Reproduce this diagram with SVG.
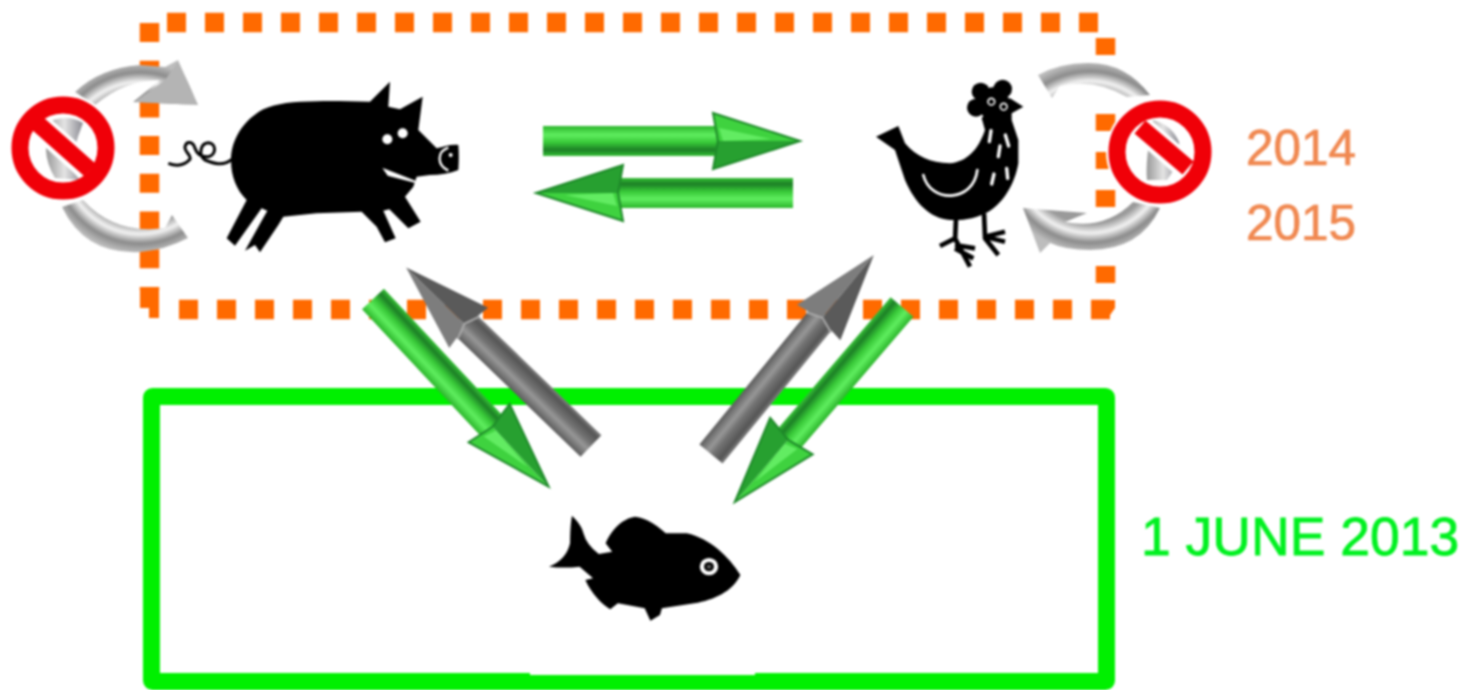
<svg xmlns="http://www.w3.org/2000/svg" xmlns:xlink="http://www.w3.org/1999/xlink" width="1471" height="690" viewBox="0 0 1471 690">
<style>
.dots{fill:none;stroke:#ff6a00;stroke-width:19.500}
.frame{fill:none;stroke:#00f000;stroke-width:17}
.sil{fill:#000}
.wl{fill:none;stroke:#fff;stroke-linecap:round}
.lbl{font-family:"Liberation Sans",Arial,sans-serif}
.or{fill:#f08850;stroke:#f08850;stroke-width:.7;font-size:49.500px}
.gr{fill:#00f020;stroke:#00f020;stroke-width:.8;font-size:53.500px}
.red{fill:none;stroke:#f00008}
</style>
<defs>
<filter id="soft" x="0" y="0" width="1471" height="690" filterUnits="userSpaceOnUse" color-interpolation-filters="sRGB"><feGaussianBlur stdDeviation="0.8"/></filter>
<linearGradient id="gs" x1="0" y1="0" x2="0" y2="1"><stop offset="0" stop-color="#2bb52b"/><stop offset=".3" stop-color="#5fee5f"/><stop offset=".55" stop-color="#38c838"/><stop offset=".8" stop-color="#1c7f26"/><stop offset="1" stop-color="#35c035"/></linearGradient>
<linearGradient id="ys" x1="0" y1="0" x2="0" y2="1"><stop offset="0" stop-color="#5c5c5c"/><stop offset=".35" stop-color="#979797"/><stop offset=".55" stop-color="#737373"/><stop offset=".85" stop-color="#555"/><stop offset="1" stop-color="#808080"/></linearGradient>
<linearGradient id="frag" x1="0" y1="0" x2="1" y2="0"><stop offset="0" stop-color="#999"/><stop offset=".5" stop-color="#e4e4e4"/><stop offset="1" stop-color="#8a8a92"/></linearGradient>
<radialGradient id="ringL" gradientUnits="userSpaceOnUse" cx="140" cy="158" r="95"><stop offset=".7" stop-color="#9a9a9a"/><stop offset=".8" stop-color="#f2f2f2"/><stop offset=".9" stop-color="#8c8c8c"/><stop offset="1" stop-color="#bdbdbd"/></radialGradient>
<radialGradient id="ringR" gradientUnits="userSpaceOnUse" cx="1090" cy="157" r="95"><stop offset=".7" stop-color="#9a9a9a"/><stop offset=".8" stop-color="#f2f2f2"/><stop offset=".9" stop-color="#8c8c8c"/><stop offset="1" stop-color="#bdbdbd"/></radialGradient>
<g id="ag">
<rect x="0" y="-15" width="175" height="30" fill="url(#gs)"/>
<path d="M170,-28L257,0L174,0Z" fill="#3fd23f"/>
<path d="M170,28L257,0L174,0Z" fill="#27a030"/>
<path d="M176,-13L228,-2L180,0Z" fill="#62ec62"/>
<path d="M170,-28L257,0L170,28L175,0Z" fill="none" stroke="#1f8a2a" stroke-width="2"/>
</g>
<g id="ay">
<rect x="0" y="-15" width="175" height="30" fill="url(#ys)"/>
<path d="M170,-28L257,0L174,0Z" fill="#7d7d7d"/>
<path d="M170,28L257,0L174,0Z" fill="#5a5a5a"/>
<path d="M170,-16L176,0L170,16" fill="none" stroke="#aaa" stroke-width="2"/>
</g>
</defs>
<rect width="1471" height="690" fill="#fff"/>
<g filter="url(#soft)">
<g id="zone-2014-2015">
<path class="dots" d="M167,22.500H1105" stroke-dasharray="19 19"/>
<path class="dots" d="M149.500,23V290" stroke-dasharray="19 18.700"/>
<path class="dots" d="M1105.500,38V300" stroke-dasharray="17 21"/>
<path class="dots" d="M179,309.500H1115" stroke-dasharray="19 19"/>
<path d="M140,290H159V318H149V308H140Z" fill="#ff6a00"/>
<path d="M1096,300H1115V308L1108,318H1096Z" fill="#ff6a00"/>
<rect x="1094" y="83" width="23" height="12" fill="#fff"/>
</g>
<g id="zone-2013">
<rect class="frame" x="151.500" y="396.500" width="955" height="285" rx="1"/>
<rect x="530" y="668" width="225" height="7" fill="#fff"/>
</g>
<g id="connectors">
<use href="#ag" xlink:href="#ag" transform="translate(543,141)"/>
<use href="#ag" xlink:href="#ag" transform="translate(793,193) rotate(180)"/>
<use href="#ag" xlink:href="#ag" transform="translate(373,299) rotate(46.900) scale(1,-1)"/>
<use href="#ay" xlink:href="#ay" transform="translate(591,446) rotate(224)"/>
<use href="#ay" xlink:href="#ay" transform="translate(711,454) rotate(-50.700)"/>
<use href="#ag" xlink:href="#ag" transform="translate(902,307) rotate(130.600)"/>
<path d="M75,92Q100,68 140,65L165,67L178,60L198,105L133,102L160,80Q125,80 95,105Z" fill="url(#ringL)"/>
<path d="M165,80L178,62L198,105L135,102Z" fill="#b4b4b4"/>
<path d="M62,207Q85,255 140,252Q165,250 188,238L172,215L165,228Q115,235 83,200Z" fill="url(#ringL)"/>
<path d="M1150,95Q1125,62 1087,63Q1060,63 1038,75L1052,98L1060,86Q1095,78 1127,97Z" fill="url(#ringR)"/>
<path d="M1160,208Q1140,250 1090,250Q1065,250 1050,243L1040,253L1023,208L1087,213L1065,222Q1105,230 1133,202Z" fill="url(#ringR)"/>
</g>
<g id="stop-left">
<circle cx="63" cy="148" r="54" fill="#fff"/>
<path d="M53,120Q70,115 83,123Q72,150 72,170L80,180L55,178Q38,150 53,120Z" fill="url(#frag)"/>
<path d="M30,117L96,176" stroke="#fff" stroke-width="25" fill="none"/>
<circle cx="63" cy="148" r="43" class="red" stroke-width="17"/>
<path d="M37,123L90,170" class="red" stroke-width="17"/>
</g>
<g id="stop-right">
<circle cx="1160" cy="152" r="54" fill="#fff"/>
<path d="M1153,120Q1172,125 1179,142Q1182,160 1167,180L1147,180Q1145,160 1153,120Z" fill="url(#frag)"/>
<path d="M1132,120L1194,174" stroke="#fff" stroke-width="25" fill="none"/>
<circle cx="1160" cy="152" r="43" class="red" stroke-width="17"/>
<path d="M1140,127L1188,168" class="red" stroke-width="17"/>
</g>
<g id="pig" transform="scale(.33333)">
<path class="sil" d="M693,480C693,420 730,360 790,328C830,310 880,305 950,304C1000,302 1060,305 1110,305L1170,245L1165,320L1200,328L1268,290L1255,390L1310,445C1330,440 1355,432 1375,435Q1378,470 1375,510C1350,520 1320,525 1290,525L1250,530L1240,560L1215,590L1262,665L1225,685L1168,628L1150,632L1187,715L1155,727L1130,680L1085,635L950,640L850,650L835,675L780,757L765,735L735,752L802,632L785,625L705,737L680,715L740,600C710,570 693,530 693,480Z"/>
<path d="M1155,510L1245,545L1165,525Z" fill="#fff" stroke="#fff" stroke-width="6"/>
<path d="M695,478C670,500 640,490 615,480C595,465 600,430 625,428C650,430 650,465 625,470C600,472 590,460 585,445C580,425 560,420 555,440C552,455 575,465 570,478C550,500 525,498 505,490" fill="none" stroke="#000" stroke-width="9"/>
<circle cx="1162" cy="418" r="15" fill="#fff"/>
<circle cx="1208" cy="400" r="15" fill="#fff"/>
<path d="M1345,443C1310,455 1310,495 1345,512" fill="none" stroke="#fff" stroke-width="7"/>
<circle cx="1352" cy="465" r="6" fill="#fff"/>
</g>
<g id="hen" transform="translate(860,40) scale(.33333)">
<path class="sil" d="M48,290L115,258L135,310C170,350 210,368 270,370C320,365 355,330 375,270L365,235L400,190L450,175L490,200L455,220L455,240L475,300L475,370C465,430 430,490 385,515C350,535 310,542 270,540C210,535 165,490 135,420L105,330Z"/>
<circle class="sil" cx="362" cy="155" r="27"/><circle class="sil" cx="428" cy="147" r="28"/><circle class="sil" cx="348" cy="203" r="27"/><circle class="sil" cx="400" cy="190" r="48"/>
<path d="M288,535L285,605M240,618L285,595L330,680M285,615L345,625M285,625L340,655M372,520L375,590L435,575M375,590L435,605M375,595L415,645" fill="none" stroke="#000" stroke-width="14"/>
<path class="wl" stroke-width="8" d="M190,405C210,490 340,490 352,390"/>
<path class="wl" stroke-width="10" d="M393,272L388,305M436,285L446,318M420,318L415,350M402,402L395,432M440,385L443,415"/>
<circle cx="394" cy="185" r="10" fill="none" stroke="#fff" stroke-width="5"/>
<circle cx="431" cy="200" r="10" fill="none" stroke="#fff" stroke-width="5"/>
</g>
<g id="fish" transform="translate(350,250) scale(.38270,.33333)">
<path class="sil" d="M580,797Q605,825 610,850Q618,885 650,912L685,905L668,880C680,845 710,805 745,800C780,805 805,830 825,850L880,850C940,865 990,920 1020,975C1000,1025 950,1050 900,1060L815,1075L810,1095L785,1112L770,1075L700,1060L680,1078C660,1065 630,1030 615,990L635,985L600,950Q560,955 520,950Q565,930 575,880Q575,830 580,797Z"/>
<ellipse cx="938" cy="950" rx="24" ry="26" fill="#fff"/>
<ellipse cx="938" cy="950" rx="13" ry="14" fill="#000"/>
<ellipse cx="938" cy="950" rx="6" ry="6" fill="#fff" opacity=".35"/>
</g>
<g id="labels" class="lbl">
<text class="or" x="1246" y="165">2014</text>
<text class="or" x="1246" y="240">2015</text>
<text class="gr" x="1141" y="555">1 JUNE 2013</text>
</g>
</g>
</svg>
